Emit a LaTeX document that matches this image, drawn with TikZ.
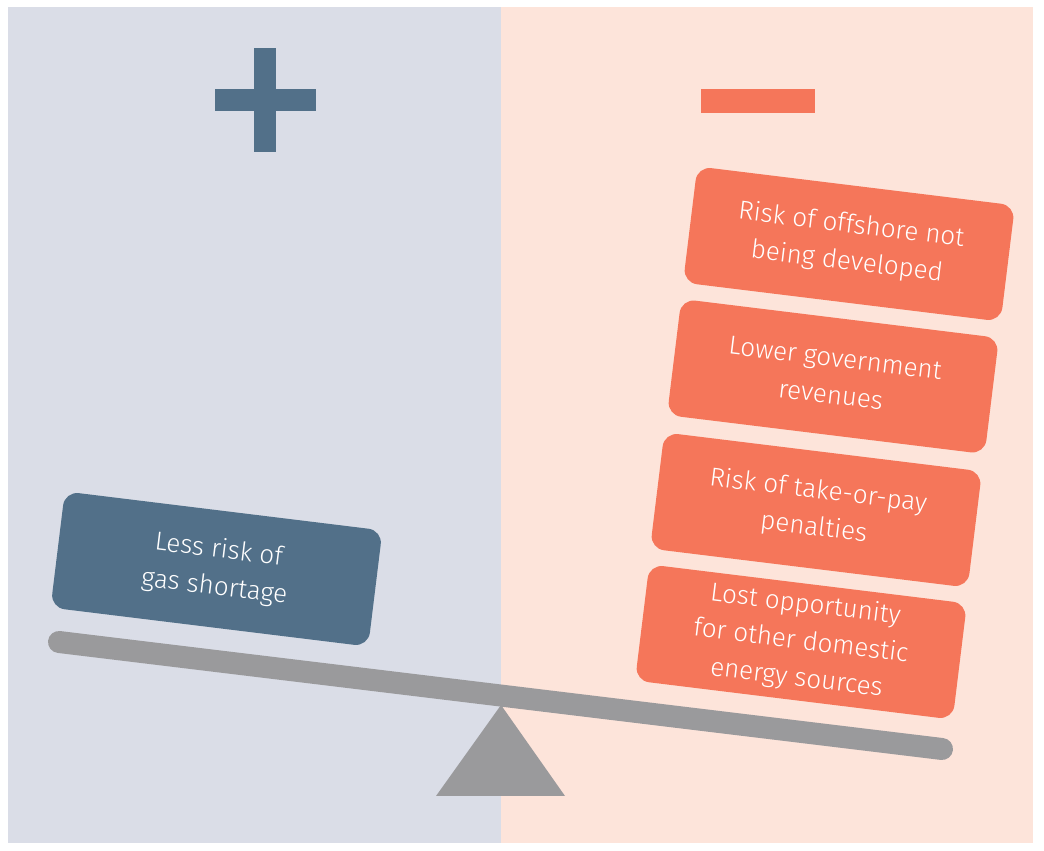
\documentclass[tikz,border=0pt]{standalone}
\usepackage{fontspec}
\setmainfont{Fira Sans Light}
\usepackage{tikz}
\usetikzlibrary{calc}
\definecolor{bgplus}{RGB}{218,221,231}
\definecolor{bgminus}{RGB}{253,228,218}
\definecolor{plusblue}{RGB}{82,112,137}
\definecolor{minusorange}{RGB}{245,118,90}
\definecolor{beamgrey}{RGB}{154,154,156}
\tikzset{
	weightbox/.style={rotate=-7, minimum width=320pt, minimum height=117pt, rounded corners=14pt, text=white, align=center, inner sep=0pt, font=\fontsize{26}{37}\selectfont},
	probox/.style={weightbox, fill=plusblue},
	conbox/.style={weightbox, fill=minusorange}
}

\begin{document}
\begin{tikzpicture}[x=1pt, y=1pt]
			%%%%% START %%%%%
			
			\useasboundingbox (0, 0) rectangle (1044, 851);
			
			\fill[bgplus] (8, 8) rectangle (501, 844);
			\fill[bgminus] (501, 8) rectangle (1033, 844);
			
			\fill[plusblue] (254, 699) rectangle (276, 803);
			\fill[plusblue] (215, 740) rectangle (316, 762);
			\fill[minusorange] (701, 738) rectangle (815, 762);
			
			\draw[line width=22pt, line cap=round, color=beamgrey] (59, 209) -- (942, 102);
			\fill[beamgrey] (501, 146) -- (565, 55) -- (436, 55) -- cycle;
			
			\node[probox] (gasshortage) at (216.5, 282) {Less risk of\\gas shortage};
			
			\node[conbox] (offshore) at (849, 607) {Risk of offshore not\\being developed};
			\node[conbox] (revenues) at (833, 474.5) {Lower government\\revenues};
			\node[conbox] (takeorpay) at (816, 341) {Risk of take-or-pay\\penalties};
			\node[conbox] (lostopp) at (801, 209) {Lost opportunity\\for other domestic\\energy sources};
			
			%%%%% END %%%%%
		\end{tikzpicture}
\end{document}
